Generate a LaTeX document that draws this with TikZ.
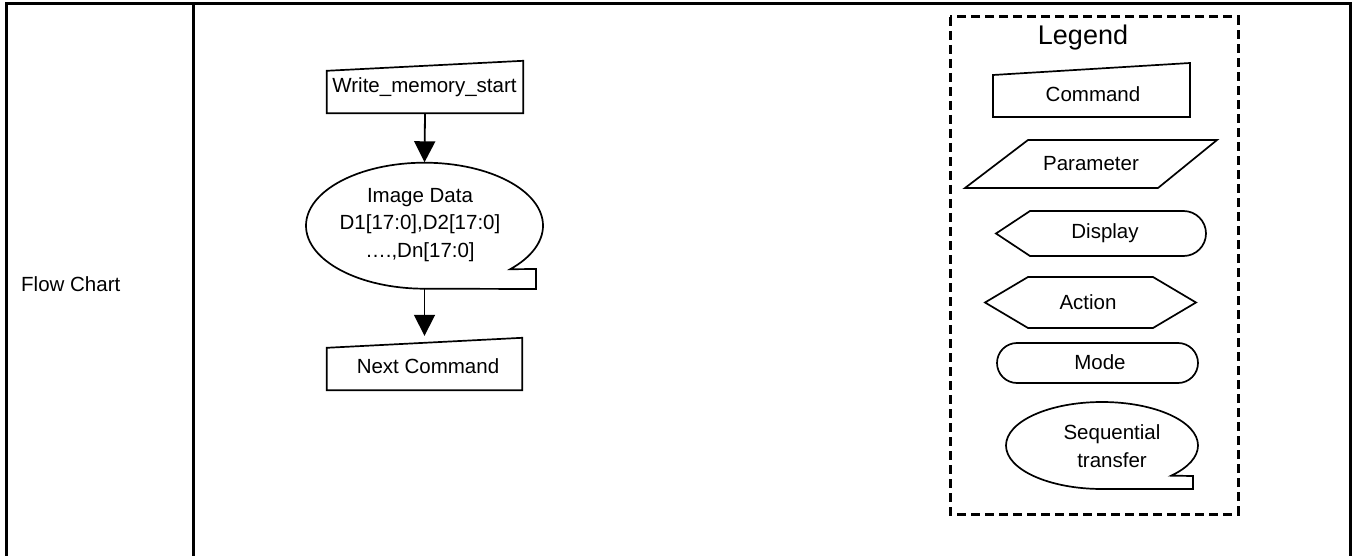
\documentclass[tikz,border=0pt]{standalone}
\usepackage{fontspec}
\setmainfont{Liberation Sans}
\usetikzlibrary{arrows.meta}
\begin{document}
\begin{tikzpicture}[x=1pt,y=-1pt,
  shp/.style={draw=black, line width=1.7pt, line join=miter},
  lbl/.style={font=\fontsize{20.5}{27.5}\selectfont, align=center, inner sep=0pt},
  box/.style={inner sep=0pt},
  flowarrow/.style={draw=black, line width=1.8pt, -{Triangle[width=21pt,length=21pt]}},
  frame/.style={draw=black, line width=3pt},
  legendframe/.style={draw=black, line width=3pt, dash pattern=on 9pt off 5pt}]
\useasboundingbox (0,0) rectangle (1357,556);

% table frame
\draw[frame] (6,556) -- (6,4) -- (1350,4) -- (1350,556);
\draw[frame] (193,4) -- (193,556);
\node[lbl, anchor=west] (fc) at (21,284) {Flow Chart};

% flow chart
\node[box, minimum width=196pt, minimum height=47pt] (wm) at (425,89.5) {};
\draw[shp] (wm.south west) -- (wm.south east) -- ([yshift=5pt]wm.north east) -- ([yshift=-5pt]wm.north west) -- cycle;
\node[lbl] (wmt) at (424.5,87) {Write\_memory\_start};

\node[box, minimum width=237pt, minimum height=126pt] (img) at (424.5,225.5) {};
\draw[shp] (img.south) arc[start angle=270, end angle=-43.7, x radius=118.5pt, y radius=63pt]
  -- (536,269) -- (536,289) -- (img.south) -- cycle;
\node[lbl] (imgt) at (420,225) {Image Data\\D1[17:0],D2[17:0]\\….,Dn[17:0]};

\node[box, minimum width=195pt, minimum height=47pt] (nc) at (424.5,366.5) {};
\draw[shp] (nc.south west) -- (nc.south east) -- ([yshift=5pt]nc.north east) -- ([yshift=-5pt]nc.north west) -- cycle;
\node[lbl] (nct) at (428,366) {Next Command};

\draw[flowarrow] (wm.south) -- (img.north);
\draw[flowarrow, shorten >=7pt] (img.south) -- (nc.north);

% legend
\draw[legendframe] (950,17) rectangle (1238,514);
\node[lbl, font=\fontsize{27}{30}\selectfont] (lg) at (1083,38) {Legend};

\draw[shp] (993,117) -- (1190,117) -- (1190,63) -- (993,75) -- cycle;
\node[lbl] (cmd) at (1093,94) {Command};

\draw[shp] (1028,140) -- (1217,140) -- (1158,188) -- (965,188) -- cycle;
\node[lbl] (par) at (1091,164) {Parameter};

\draw[shp] (996,233.5) -- (1030,211) -- (1183.5,211) arc[start angle=90, end angle=-90, radius=22.5pt] -- (1030,256) -- cycle;
\node[lbl] (dsp) at (1105,233) {Display};

\draw[shp] (985,302.5) -- (1028,277) -- (1153,277) -- (1196,302.5) -- (1153,328) -- (1028,328) -- cycle;
\node[lbl] (act) at (1088,302) {Action};

\draw[shp, rounded corners=20pt] (997,343) rectangle (1198,383);
\node[lbl] (mod) at (1100,362) {Mode};

\coordinate (stb) at (1102,489);
\draw[shp] (stb) arc[start angle=270, end angle=-43.9, x radius=96pt, y radius=43.5pt]
  -- (1193,476) -- (1193,489) -- (stb) -- cycle;
\node[lbl] (seq) at (1112,446) {Sequential\\transfer};
\end{tikzpicture}
\end{document}
